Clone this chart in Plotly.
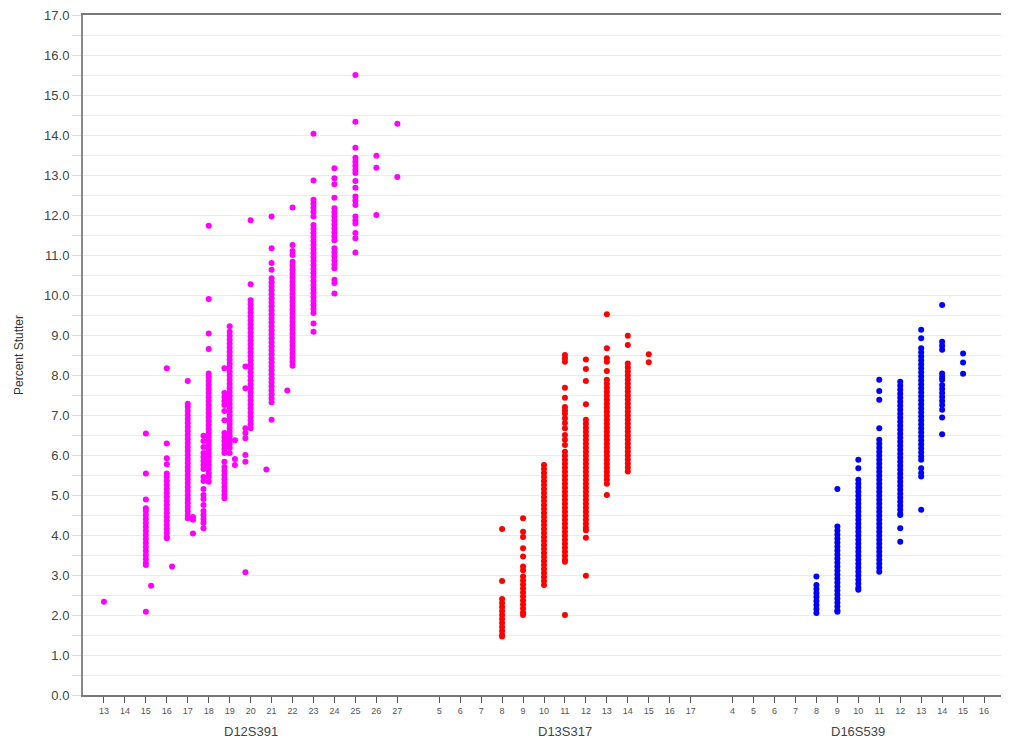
import plotly.graph_objects as go

# ---------------- data ----------------
loci = ["D12S391", "D13S317", "D16S539"]
colors = ["#FF00FF", "#FF0000", "#0000FF"]

d12s391_alleles = [13, 14, 15, 16, 17, 18, 19, 20, 21, 22, 23, 24, 25, 26, 27]
d13s317_alleles = [5, 6, 7, 8, 9, 10, 11, 12, 13, 14, 15, 16, 17]
d16s539_alleles = [4, 5, 6, 7, 8, 9, 10, 11, 12, 13, 14, 15, 16]

# x position of each column (allele value, microvariant columns slightly offset)
d12s391_x = [13, 15, 15.25, 16, 16.25, 17, 17.25, 17.75, 18, 18.75, 19, 19.25,
             19.75, 20, 20.75, 21, 21.75, 22, 23, 24, 25, 26, 27]
d12s391_stutter = [
    [2.33],
    [6.54, 5.54, 4.89, 4.67, 4.6, 4.5, 4.4, 4.3, 4.2, 4.1, 4.0, 3.9, 3.8, 3.7, 3.6, 3.5, 3.4, 3.3, 3.25, 2.08],
    [2.73],
    [8.17, 6.29, 5.92, 5.77, 5.54, 5.45, 5.35, 5.25, 5.15, 5.05, 4.95, 4.85, 4.75, 4.65, 4.55, 4.45, 4.35,
     4.25, 4.15, 4.05, 3.95, 3.92],
    [3.21],
    [7.85, 7.28, 7.2, 7.1, 7.0, 6.9, 6.8, 6.7, 6.6, 6.5, 6.4, 6.3, 6.2, 6.1, 6.0, 5.9, 5.8, 5.7, 5.6, 5.5,
     5.4, 5.3, 5.2, 5.1, 5.0, 4.9, 4.8, 4.7, 4.6, 4.5, 4.42],
    [4.45, 4.38, 4.04],
    [6.48, 6.35, 6.2, 6.05, 5.95, 5.85, 5.75, 5.65, 5.45, 5.35, 5.15, 5.0, 4.9, 4.75, 4.6, 4.5, 4.4, 4.3, 4.17],
    [11.73, 9.9, 9.04, 8.65, 8.04, 7.95, 7.85, 7.75, 7.65, 7.55, 7.45, 7.35, 7.25, 7.15, 7.05, 6.95, 6.85,
     6.75, 6.65, 6.55, 6.45, 6.35, 6.25, 6.15, 6.05, 5.95, 5.85, 5.75, 5.65, 5.55, 5.45, 5.33],
    [8.17, 7.55, 7.45, 7.35, 7.25, 7.1, 6.87, 6.55, 6.45, 6.35, 6.25, 6.15, 6.05, 5.83, 5.7, 5.6, 5.5, 5.4,
     5.3, 5.2, 5.1, 5.0, 4.92],
    [9.22, 9.08, 8.98, 8.88, 8.78, 8.68, 8.58, 8.48, 8.38, 8.28, 8.18, 8.08, 7.98, 7.88, 7.78, 7.68, 7.58,
     7.48, 7.38, 7.28, 7.18, 7.08, 6.98, 6.88, 6.78, 6.68, 6.58, 6.48, 6.38, 6.28, 6.18, 6.05],
    [6.37, 5.9, 5.75],
    [8.21, 7.67, 6.67, 6.55, 6.42, 6.0, 5.83, 3.07],
    [11.87, 10.27, 9.87, 9.77, 9.67, 9.57, 9.47, 9.37, 9.27, 9.17, 9.07, 8.97, 8.87, 8.77, 8.67, 8.57, 8.47,
     8.37, 8.27, 8.17, 8.07, 7.97, 7.87, 7.77, 7.67, 7.57, 7.47, 7.37, 7.27, 7.17, 7.07, 6.97, 6.87, 6.77, 6.67],
    [5.64],
    [11.96, 11.17, 10.8, 10.63, 10.42, 10.32, 10.22, 10.12, 10.02, 9.92, 9.82, 9.72, 9.62, 9.52, 9.42, 9.32,
     9.22, 9.12, 9.02, 8.92, 8.82, 8.72, 8.62, 8.52, 8.42, 8.32, 8.22, 8.12, 8.02, 7.92, 7.82, 7.72, 7.62,
     7.52, 7.42, 7.32, 6.88],
    [7.61],
    [12.19, 11.25, 11.1, 11.0, 10.83, 10.73, 10.63, 10.53, 10.43, 10.33, 10.23, 10.13, 10.03, 9.93, 9.83,
     9.73, 9.63, 9.53, 9.43, 9.33, 9.23, 9.13, 9.03, 8.93, 8.83, 8.73, 8.63, 8.53, 8.43, 8.33, 8.23],
    [14.03, 12.86, 12.38, 12.28, 12.18, 12.08, 11.96, 11.75, 11.65, 11.55, 11.45, 11.35, 11.25, 11.15, 11.05,
     10.95, 10.85, 10.75, 10.65, 10.55, 10.45, 10.35, 10.25, 10.15, 10.05, 9.95, 9.85, 9.75, 9.65, 9.55,
     9.29, 9.08],
    [13.17, 12.92, 12.77, 12.43, 12.17, 12.07, 11.97, 11.87, 11.77, 11.67, 11.57, 11.47, 11.37, 11.17, 11.07,
     10.97, 10.87, 10.77, 10.67, 10.38, 10.3, 10.04],
    [15.5, 14.33, 13.68, 13.43, 13.33, 13.23, 13.13, 13.05, 12.85, 12.68, 12.46, 12.36, 12.25, 11.96, 11.87,
     11.79, 11.55, 11.42, 11.06],
    [13.48, 13.18, 12.0],
    [14.28, 12.95],
]

d13s317_x = [8, 9, 10, 11, 12, 13, 14, 15]
d13s317_stutter = [
    [4.15, 2.85, 2.4, 2.3, 2.2, 2.1, 2.0, 1.9, 1.8, 1.7, 1.6, 1.5, 1.46],
    [4.42, 4.08, 3.95, 3.67, 3.46, 3.21, 3.12, 2.96, 2.86, 2.76, 2.66, 2.56, 2.46, 2.36, 2.26, 2.16, 2.06, 2.0],
    [5.75, 5.65, 5.55, 5.45, 5.35, 5.25, 5.15, 5.05, 4.95, 4.85, 4.75, 4.65, 4.55, 4.45, 4.35, 4.25, 4.15,
     4.05, 3.95, 3.85, 3.75, 3.65, 3.55, 3.45, 3.35, 3.25, 3.15, 3.05, 2.95, 2.85, 2.75],
    [8.5, 8.42, 8.33, 7.68, 7.43, 7.2, 7.12, 7.04, 6.92, 6.8, 6.67, 6.5, 6.38, 6.25, 6.08, 5.98, 5.88, 5.78,
     5.68, 5.58, 5.48, 5.38, 5.28, 5.18, 5.08, 4.98, 4.88, 4.78, 4.68, 4.58, 4.48, 4.38, 4.28, 4.18, 4.08,
     3.98, 3.88, 3.78, 3.68, 3.58, 3.48, 3.38, 3.33, 2.0],
    [8.39, 8.15, 7.85, 7.27, 6.88, 6.78, 6.68, 6.58, 6.48, 6.38, 6.28, 6.18, 6.08, 5.98, 5.88, 5.78, 5.68,
     5.58, 5.48, 5.38, 5.28, 5.18, 5.08, 4.98, 4.88, 4.78, 4.68, 4.58, 4.48, 4.38, 4.28, 4.18, 4.12, 3.93, 2.98],
    [9.52, 8.67, 8.42, 8.33, 8.1, 7.88, 7.78, 7.68, 7.58, 7.48, 7.38, 7.28, 7.18, 7.08, 6.98, 6.88, 6.78,
     6.68, 6.58, 6.48, 6.38, 6.28, 6.18, 6.08, 5.98, 5.88, 5.78, 5.68, 5.58, 5.48, 5.38, 5.28, 5.0],
    [8.98, 8.75, 8.29, 8.19, 8.09, 7.99, 7.89, 7.79, 7.69, 7.59, 7.49, 7.39, 7.29, 7.19, 7.09, 6.99, 6.89,
     6.79, 6.69, 6.59, 6.49, 6.39, 6.29, 6.19, 6.09, 5.99, 5.89, 5.79, 5.69, 5.59],
    [8.52, 8.32],
]

d16s539_x = [8, 9, 10, 11, 12, 13, 14, 15]
d16s539_stutter = [
    [2.96, 2.75, 2.65, 2.55, 2.45, 2.35, 2.25, 2.15, 2.05],
    [5.15, 4.21, 4.11, 4.01, 3.91, 3.81, 3.71, 3.61, 3.51, 3.41, 3.31, 3.21, 3.11, 3.01, 2.91, 2.81, 2.71,
     2.61, 2.51, 2.41, 2.31, 2.21, 2.11, 2.08],
    [5.88, 5.67, 5.38, 5.28, 5.18, 5.08, 4.98, 4.88, 4.78, 4.68, 4.58, 4.48, 4.38, 4.28, 4.18, 4.08, 3.98,
     3.88, 3.78, 3.68, 3.58, 3.48, 3.38, 3.28, 3.18, 3.08, 2.98, 2.88, 2.78, 2.68, 2.63],
    [7.88, 7.6, 7.38, 6.67, 6.38, 6.28, 6.18, 6.08, 5.98, 5.88, 5.78, 5.68, 5.58, 5.48, 5.38, 5.28, 5.18,
     5.08, 4.98, 4.88, 4.78, 4.68, 4.58, 4.48, 4.38, 4.28, 4.18, 4.08, 3.98, 3.88, 3.78, 3.68, 3.58, 3.48,
     3.38, 3.28, 3.18, 3.08],
    [7.83, 7.73, 7.63, 7.53, 7.43, 7.33, 7.23, 7.13, 7.03, 6.93, 6.83, 6.73, 6.63, 6.53, 6.43, 6.33, 6.23,
     6.13, 6.03, 5.93, 5.83, 5.73, 5.63, 5.53, 5.43, 5.33, 5.23, 5.13, 5.03, 4.93, 4.83, 4.73, 4.63, 4.53,
     4.5, 4.17, 3.83],
    [9.13, 8.92, 8.67, 8.57, 8.47, 8.37, 8.27, 8.17, 8.07, 7.97, 7.87, 7.77, 7.67, 7.57, 7.47, 7.37, 7.27,
     7.17, 7.07, 6.97, 6.87, 6.77, 6.67, 6.57, 6.47, 6.37, 6.27, 6.17, 6.07, 5.97, 5.88, 5.67, 5.55, 5.46,
     4.63],
    [9.75, 8.83, 8.73, 8.63, 8.04, 7.95, 7.88, 7.75, 7.65, 7.55, 7.45, 7.35, 7.25, 7.13, 6.94, 6.52],
    [8.54, 8.31, 8.03],
]

y_ticks = [0, 1, 2, 3, 4, 5, 6, 7, 8, 9, 10, 11, 12, 13, 14, 15, 16, 17]

# ---------------- build figure ----------------
allele_lists = [d12s391_alleles, d13s317_alleles, d16s539_alleles]
x_lists = [d12s391_x, d13s317_x, d16s539_x]
y_lists = [d12s391_stutter, d13s317_stutter, d16s539_stutter]

fig = go.Figure()
tickvals, ticktext, centers = [], [], []
offset = 0
for name, col, alleles, xs, ys in zip(loci, colors, allele_lists, x_lists, y_lists):
    base = alleles[0]
    px, py = [], []
    for xv, vals in zip(xs, ys):
        for v in vals:
            px.append(xv - base + offset)
            py.append(v)
    fig.add_trace(go.Scatter(x=px, y=py, mode="markers", name=name,
                             marker=dict(color=col, size=6, line=dict(width=0)),
                             showlegend=False))
    pos = [a - base + offset for a in alleles]
    tickvals += pos
    ticktext += [str(a) for a in alleles]
    centers.append((name, (pos[0] + pos[-1]) / 2))
    offset += len(alleles) + 1

for name, c in centers:
    fig.add_annotation(x=c, y=0, xref="x", yref="paper", text=name, showarrow=False,
                       yanchor="top", yshift=-27,
                       font=dict(family="Liberation Sans, Arial", size=13, color="#444444"))

half_vals = [v for t in y_ticks for v in (t, t + 0.5) if v <= y_ticks[-1]]
half_text = [f"{v:.1f}" if float(v).is_integer() else "" for v in half_vals]

# the page body adds an 8px margin, so the figure is sized to fit inside it
fig.update_layout(
    width=1001, height=736,
    margin=dict(l=75, r=4, t=7, b=49),
    paper_bgcolor="white", plot_bgcolor="white",
    font=dict(family="Liberation Sans, Arial", color="#444444"),
    xaxis=dict(range=[-1, offset - 1], tickmode="array", tickvals=tickvals, ticktext=ticktext,
               tickfont=dict(size=9, color="#555555"), ticks="outside", ticklen=6,
               tickcolor="#555555", tickwidth=1, showgrid=False, zeroline=False,
               showline=True, linecolor="#777777", linewidth=2, mirror=True,
               ticklabeloverflow="allow", automargin=False),
    yaxis=dict(range=[0, 17], tickmode="array", tickvals=half_vals, ticktext=half_text,
               tickfont=dict(size=13, color="#444444"), ticks="outside", ticklen=9,
               tickcolor="#dddddd", showgrid=True, gridcolor="#ebebeb", gridwidth=1,
               zeroline=False, showline=True, linecolor="#888888", linewidth=2, mirror=True,
               ticklabeloverflow="allow", automargin=False,
               title=dict(text="Percent Stutter", font=dict(size=12, color="#333333"), standoff=18)),
)

fig.write_html("out.html")
